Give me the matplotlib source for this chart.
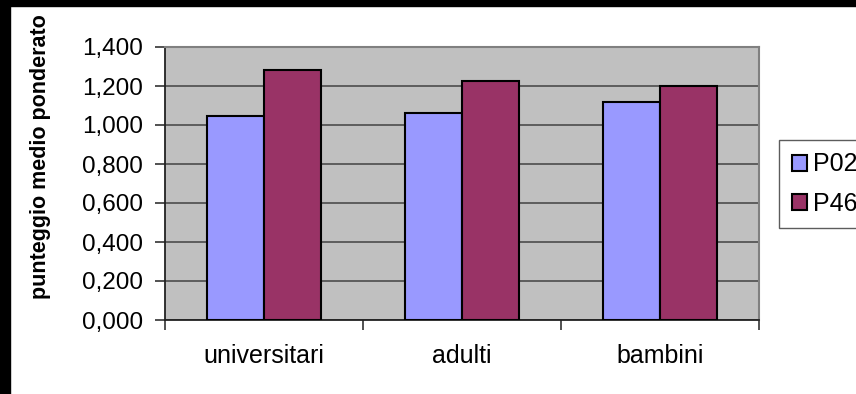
import matplotlib
matplotlib.use("Agg")
import matplotlib.pyplot as plt
import numpy as np
from matplotlib.patches import Rectangle
from matplotlib.ticker import FuncFormatter, MultipleLocator

categories = ["universitari", "adulti", "bambini"]
series_names = ["P02", "P46"]
p02 = [1.048, 1.060, 1.120]
p46 = [1.280, 1.228, 1.198]
colors = ["#9999FF", "#993366"]

plt.rcParams["font.family"] = ["Liberation Sans", "DejaVu Sans"]

W, H = 856, 394
fig = plt.figure(figsize=(W / 100, H / 100), dpi=100)
fig.patch.set_facecolor("white")

ax = fig.add_axes([165 / W, 1 - 320 / H, (759 - 165) / W, (320 - 47) / H])
ax.set_facecolor("#C0C0C0")

x = np.arange(len(categories))
bw = 0.288
ax.bar(x - bw / 2, p02, bw, color=colors[0], edgecolor="black", linewidth=1.5, label=series_names[0], zorder=3)
ax.bar(x + bw / 2, p46, bw, color=colors[1], edgecolor="black", linewidth=1.5, label=series_names[1], zorder=3)

ax.set_xlim(-0.5, 2.5)
ax.set_ylim(0, 1.4)
ax.yaxis.set_major_locator(MultipleLocator(0.2))
ax.yaxis.set_major_formatter(FuncFormatter(lambda v, p: f"{v:.3f}".replace(".", ",")))
ax.grid(axis="y", color="#555555", linewidth=1.3, zorder=1)
ax.set_axisbelow(True)

ax.set_xticks(x)
ax.set_xticklabels(categories)
ax.set_xticks(np.arange(-0.5, 3.0, 1.0), minor=True)
ax.tick_params(axis="x", which="major", length=0, pad=17, labelsize=18)
ax.tick_params(axis="x", which="minor", length=7, width=1.2, color="#333333", direction="out")
ax.tick_params(axis="y", which="major", length=7, width=1.2, color="#333333", pad=9, labelsize=17.5)

for s in ["left", "bottom"]:
    ax.spines[s].set_color("#222222")
    ax.spines[s].set_linewidth(1.3)
for s in ["top", "right"]:
    ax.spines[s].set_color("#808080")
    ax.spines[s].set_linewidth(1.5)

ax.set_ylabel("punteggio medio ponderato", fontsize=15.5, fontweight="bold")
ax.yaxis.set_label_coords(-0.192, 0.597)

leg = fig.legend(loc="upper left", bbox_to_anchor=(779 / W, 1 - 140 / H), fontsize=18,
                 frameon=True, fancybox=False, edgecolor="#333333", handlelength=0.6,
                 handleheight=0.6, handletextpad=0.25, borderpad=0.5, labelspacing=0.62,
                 borderaxespad=0)
leg.get_frame().set_linewidth(1.0)

# black frame at top and left
fig.patches.append(Rectangle((0, 1 - 6 / H), 1, 6 / H, transform=fig.transFigure, color="black", zorder=10))
fig.patches.append(Rectangle((0, 0), 10 / W, 1, transform=fig.transFigure, color="black", zorder=10))

fig.savefig("out.png", dpi=100)
